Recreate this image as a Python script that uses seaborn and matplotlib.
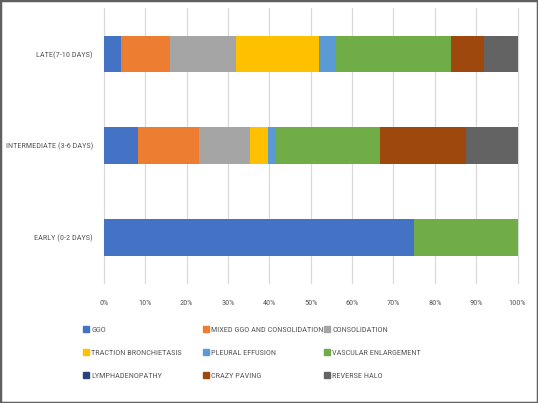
import matplotlib
matplotlib.use("Agg")
import matplotlib.pyplot as plt
from matplotlib import font_manager as fm
from matplotlib.lines import Line2D
from matplotlib.patches import Rectangle
import numpy as np
import pandas as pd
import seaborn as sns

sns.set_theme(style="white")

# pick an installed condensed face (Excel's chart text looks narrow)
font_name = "Carlito"
for cand in ["Roboto Condensed", "PT Sans Narrow", "Open Sans Condensed", "Fira Sans Condensed"]:
    if any(f.name == cand for f in fm.fontManager.ttflist):
        font_name = cand
        break
plt.rcParams['font.family'] = [font_name, 'DejaVu Sans']

stages = ["LATE(7-10 DAYS)", "INTERMEDIATE (3-6 DAYS)", "EARLY (0-2 DAYS)"]
series = ["GGO", "MIXED GGO AND CONSOLIDATION", "CONSOLIDATION",
          "TRACTION BRONCHIETASIS", "PLEURAL EFFUSION", "VASCULAR ENLARGEMENT",
          "LYMPHADENOPATHY", "CRAZY PAVING", "REVERSE HALO"]
colors = ["#4472C4", "#ED7D31", "#A5A5A5", "#FFC000", "#5B9BD5", "#70AD47",
          "#264478", "#9E480E", "#636363"]

ggo = [4.0, 8.3, 75.0]
mixed = [12.0, 14.6, 0.0]
consolidation = [16.0, 12.5, 0.0]
traction = [20.0, 4.2, 0.0]
pleural = [4.0, 2.1, 0.0]
vascular = [28.0, 25.0, 25.0]
lymph = [0.0, 0.0, 0.0]
crazy = [8.0, 20.8, 0.0]
reverse_halo = [8.0, 12.5, 0.0]

values = np.array([ggo, mixed, consolidation, traction, pleural, vascular,
                   lymph, crazy, reverse_halo])
shares = values / values.sum(axis=0, keepdims=True)
cum = np.cumsum(shares, axis=0)

W, H = 538, 403
fig = plt.figure(figsize=(W / 100, H / 100), dpi=100)

# fit font size so that text widths roughly match the reference
renderer = fig.canvas.get_renderer()
probe = fig.text(0, 0, "MIXED GGO AND CONSOLIDATION", fontsize=10)
wpx = probe.get_window_extent(renderer).width
probe.remove()
fs = min(8.0, 10 * 110 / wpx * 1.02)
fs_px = fs * 100 / 72
row_pitch = 24.5
lab_sp = (row_pitch - fs_px) / fs_px

ax = fig.add_axes([104 / W, 1 - 283 / H, (517.5 - 104) / W, (283 - 8) / H])

for i in range(len(series) - 1, -1, -1):
    df = pd.DataFrame({"stage": stages, "value": cum[i]})
    sns.barplot(data=df, x="value", y="stage", order=stages, orient="h",
                color=colors[i], saturation=1, width=0.4, ax=ax,
                linewidth=0, zorder=3)

ax.set_xlim(0, 1)
ax.set_ylim(2.5, -0.5)
ax.set_xticks(np.linspace(0, 1, 11))
ax.set_xticklabels([f"{int(round(t * 100))}%" for t in np.linspace(0, 1, 11)])
ax.set_xlabel("")
ax.set_ylabel("")
ax.grid(axis="x", color="#D9D9D9", linewidth=0.9, zorder=0)
for gl in ax.get_xgridlines():
    gl.set_clip_on(False)
ax.grid(axis="y", visible=False)
for s in ax.spines.values():
    s.set_visible(False)
ax.tick_params(axis="x", length=0, pad=12, labelsize=fs, labelcolor="#595959")
ax.tick_params(axis="y", length=0, pad=8, labelsize=fs, labelcolor="#595959")

# legend: three columns placed like the original
col_x = [84, 204, 325]
rows = [[0, 3, 6], [1, 4, 7], [2, 5, 8]]
for cx, idxs in zip(col_x, rows):
    handles = [Line2D([0], [0], marker="s", linestyle="none", markersize=4,
                      markerfacecolor=colors[k], markeredgecolor=colors[k])
               for k in idxs]
    labels = [series[k] for k in idxs]
    fig.legend(handles, labels, loc="upper left",
               bbox_to_anchor=(cx / W, 1 - (330 - fs_px / 2) / H),
               frameon=False, fontsize=fs, labelcolor="#595959",
               handlelength=0.6, handletextpad=0.3, labelspacing=lab_sp,
               borderpad=0, borderaxespad=0)

fig.add_artist(Rectangle((0, 0), 1, 1, transform=fig.transFigure,
                         fill=False, edgecolor="#606060", linewidth=2.5))

fig.savefig("out.png", dpi=100)
